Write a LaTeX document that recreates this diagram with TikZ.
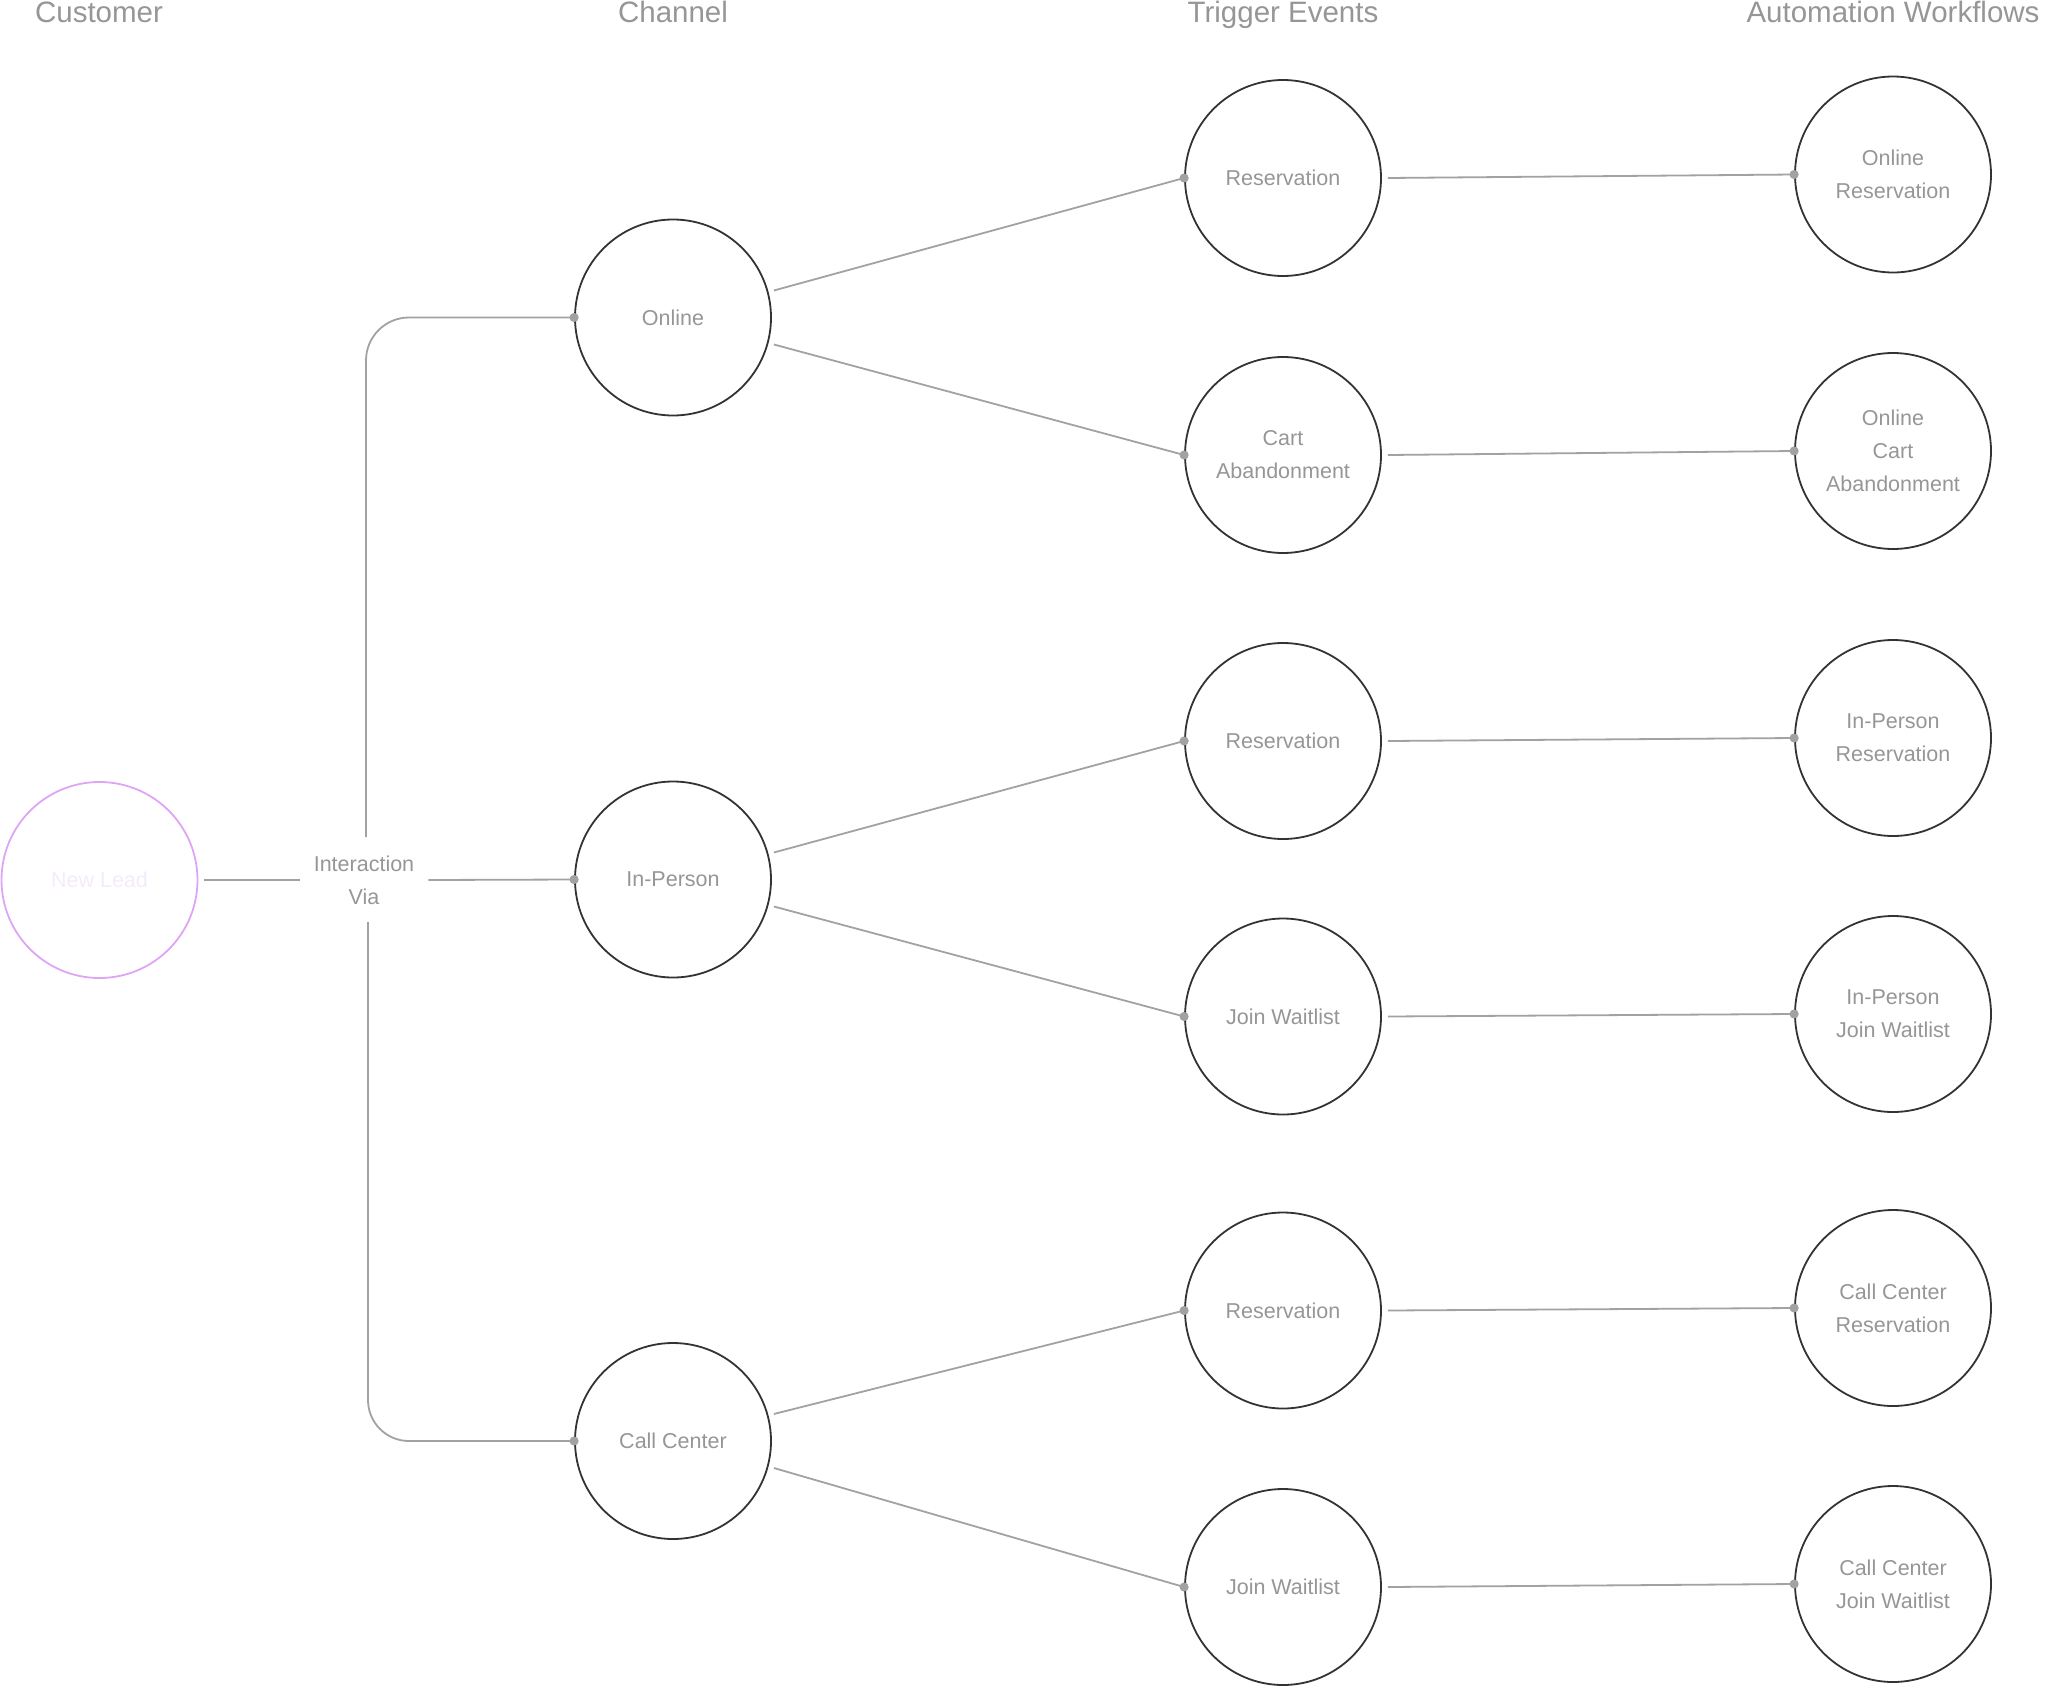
\documentclass[tikz,border=0pt]{standalone}
\usepackage{fontspec}
\setmainfont{Liberation Sans}
\usetikzlibrary{positioning, calc}
\definecolor{linegray}{RGB}{162,162,162}
\definecolor{textgray}{RGB}{150,150,150}
\definecolor{ringdark}{RGB}{51,51,51}
\definecolor{leadpurple}{RGB}{222,165,247}
\definecolor{leadtext}{RGB}{244,234,252}

\begin{document}
\begin{tikzpicture}[x=1pt, y=-1pt,
  stage/.style={circle, draw=ringdark, line width=1.8pt, minimum size=196pt, inner sep=0pt,
    text=textgray, align=center, font=\fontsize{21.5}{33}\selectfont},
  head/.style={anchor=base, text=textgray, font=\fontsize{29.5}{35}\selectfont},
  link/.style={draw=linegray, line width=1.8pt}]
  \useasboundingbox (0,0) rectangle (2048,1686);

  % Column headings
  \node[head] (hcust) at (99,23) {Customer};
  \node[head] (hchan) at (673,23) {Channel};
  \node[head] (htrig) at (1283,23) {Trigger Events};
  \node[head] (hauto) at (1893,23) {Automation Workflows};

  % Customer
  \node[stage, draw=leadpurple, text=leadtext] (lead) at (99.5,880) {New Lead};
  \node[text=textgray, align=center, inner xsep=14pt, font=\fontsize{21.5}{33}\selectfont] (via) at (364,880) {Interaction\\Via};
  \coordinate (viatop) at (366,837);
  \coordinate (viabot) at (368,922);

  % Channels
  \node[stage] (online) at (673,317.5) {Online};
  \node[stage] (inperson) at (673,879.5) {In-Person};
  \node[stage] (callcenter) at (673,1441) {Call Center};

  % Trigger events
  \node[stage] (onres) at (1283,178) {Reservation};
  \node[stage] (oncart) at (1283,455) {Cart\\Abandonment};
  \node[stage] (ipres) at (1283,741) {Reservation};
  \node[stage] (ipwait) at (1283,1016.5) {Join Waitlist};
  \node[stage] (ccres) at (1283,1310.5) {Reservation};
  \node[stage] (ccwait) at (1283,1587) {Join Waitlist};

  % Automation workflows
  \node[stage] (wonres) at (1893,174.5) {Online\\Reservation};
  \node[stage] (woncart) at (1893,451) {Online\\Cart\\Abandonment};
  \node[stage] (wipres) at (1893,738) {In-Person\\Reservation};
  \node[stage] (wipwait) at (1893,1014) {In-Person\\Join Waitlist};
  \node[stage] (wccres) at (1893,1308) {Call Center\\Reservation};
  \node[stage] (wccwait) at (1893,1584) {Call Center\\Join Waitlist};

  % Lead to channels
  \draw[link] ($(lead.east)+(6,0)$) -- (via.west);
  \draw[link] (via.east) -- (inperson.west);
  \draw[link, rounded corners=43pt] (viatop) |- (online.west);
  \draw[link, rounded corners=41pt] (viabot) |- (callcenter.west);
  \foreach \c in {online, inperson, callcenter} {
    \fill[linegray] (\c.west) circle (4.6pt);
  }

  % Channels to triggers
  \foreach \c/\t/\b in {online/onres/oncart, inperson/ipres/ipwait, callcenter/ccres/ccwait} {
    \draw[link] ($(\c.east)+(2,-27)$) -- (\t.west);
    \draw[link] ($(\c.east)+(2,27)$) -- (\b.west);
    \fill[linegray] (\t.west) circle (4.6pt);
    \fill[linegray] (\b.west) circle (4.6pt);
  }

  % Triggers to workflows
  \foreach \t/\w in {onres/wonres, oncart/woncart, ipres/wipres, ipwait/wipwait, ccres/wccres, ccwait/wccwait} {
    \draw[link] ($(\t.east)+(6,0)$) -- (\w.west);
    \fill[linegray] (\w.west) circle (4.6pt);
  }
\end{tikzpicture}
\end{document}
